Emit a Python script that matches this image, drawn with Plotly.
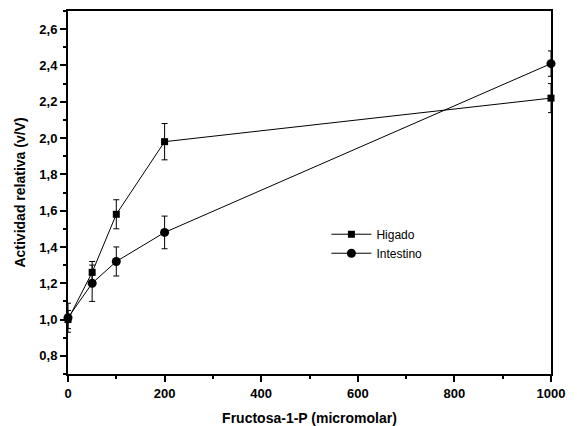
import plotly.graph_objects as go

x_vals = [0, 50, 100, 200, 1000]
higado = [1.00, 1.26, 1.58, 1.98, 2.22]
higado_err = [0.05, 0.06, 0.08, 0.10, 0.08]
intestino = [1.01, 1.20, 1.32, 1.48, 2.41]
intestino_err = [0.08, 0.10, 0.08, 0.09, 0.07]

y_tickvals = [0.8, 1.0, 1.2, 1.4, 1.6, 1.8, 2.0, 2.2, 2.4, 2.6]
y_ticktext = ["0,8", "1,0", "1,2", "1,4", "1,6", "1,8", "2,0", "2,2", "2,4", "2,6"]
x_tickvals = [0, 200, 400, 600, 800, 1000]
x_ticktext = ["0", "200", "400", "600", "800", "1000"]

FONT = "Arial, Liberation Sans, sans-serif"

fig = go.Figure()
fig.add_trace(go.Scatter(
    x=x_vals, y=higado, name="Higado", mode="lines+markers",
    line=dict(color="black", width=1),
    marker=dict(symbol="square", size=7, color="black"),
    error_y=dict(type="data", array=higado_err, color="black", thickness=1, width=3),
    cliponaxis=False,
))
fig.add_trace(go.Scatter(
    x=x_vals, y=intestino, name="Intestino", mode="lines+markers",
    line=dict(color="black", width=1),
    marker=dict(symbol="circle", size=9, color="black"),
    error_y=dict(type="data", array=intestino_err, color="black", thickness=1, width=3),
    cliponaxis=False,
))

axis_common = dict(
    showgrid=False, zeroline=False, showline=True, linecolor="black", linewidth=2,
    mirror=True, ticks="outside", ticklen=6, tickwidth=1.5, tickcolor="black",
    tickfont=dict(family=FONT, size=13, color="black"),
)

fig.update_xaxes(
    range=[0, 1000], tickvals=x_tickvals, ticktext=[f"<b>{t}</b>" for t in x_ticktext],
    minor=dict(ticks="outside", ticklen=3, tickwidth=1.5, tickcolor="black", dtick=100, tick0=0),
    title=dict(text="<b>Fructosa-1-P (micromolar)</b>", font=dict(family=FONT, size=14, color="black"), standoff=14),
    **axis_common,
)
fig.update_yaxes(
    range=[0.7, 2.7], tickvals=y_tickvals, ticktext=[f"<b>{t}</b>" for t in y_ticktext],
    minor=dict(ticks="outside", ticklen=3, tickwidth=1.5, tickcolor="black", dtick=0.1, tick0=0),
    title=dict(text="<b>Actividad relativa (v/V)</b>", font=dict(family=FONT, size=14, color="black"), standoff=10),
    **axis_common,
)

# page body has an 8px margin, so the figure is sized to fit the 577x426 window
fig.update_layout(
    width=569, height=418,
    margin=dict(l=60, r=26, t=1, b=52),
    paper_bgcolor="white", plot_bgcolor="white",
    font=dict(family=FONT, size=12, color="black"),
    showlegend=True,
    legend=dict(x=0.535, y=0.425, xanchor="left", yanchor="top", bgcolor="rgba(0,0,0,0)",
                font=dict(family=FONT, size=12, color="black"), itemwidth=40, tracegroupgap=0),
)

fig.write_html("out.html")
